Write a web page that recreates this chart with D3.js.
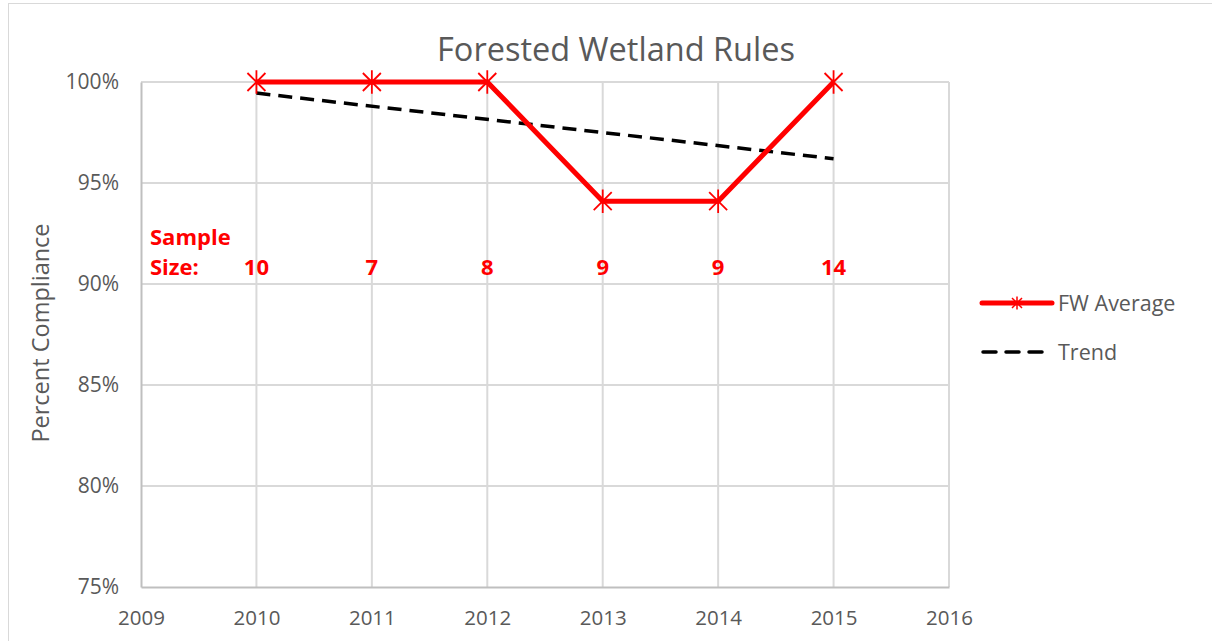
<!DOCTYPE html>
<html><head><meta charset="utf-8">
<script src="https://cdn.jsdelivr.net/npm/d3@7"></script>
<style>
body{margin:0;background:#fff;}
text{font-family:"Open Sans",sans-serif;}
</style></head>
<body>
<svg id="chart" width="1212" height="641"></svg>
<script>
const years = [2010, 2011, 2012, 2013, 2014, 2015];
const fwAverage = [100, 100, 100, 94.1, 94.1, 100];
const sampleSizes = [10, 7, 8, 9, 9, 14];
const trendYears = [2010, 2015];
const trendValues = [99.45, 96.2];
const xTicks = [2009, 2010, 2011, 2012, 2013, 2014, 2015, 2016];
const yTicks = [75, 80, 85, 90, 95, 100];
const title = "Forested Wetland Rules";
const yLabel = "Percent Compliance";
const legendLabels = ["FW Average", "Trend"];

const svg = d3.select("#chart");
const gray = "#595959";

// chart area border
svg.append("rect").attr("x", 8.5).attr("y", 3.5).attr("width", 1230).attr("height", 660)
  .attr("fill", "#fff").attr("stroke", "#d9d9d9").attr("stroke-width", 1);

const x = d3.scaleLinear().domain([2009, 2016]).range([141, 949]);
const y = d3.scaleLinear().domain([75, 100]).range([587, 82]);

// gridlines
svg.append("g").selectAll("line").data(yTicks.filter(d => d > 75)).join("line")
  .attr("x1", x(2009)).attr("x2", x(2016)).attr("y1", d => y(d)).attr("y2", d => y(d))
  .attr("stroke", "#d9d9d9").attr("stroke-width", 2);
svg.append("g").selectAll("line").data(xTicks.filter(d => d > 2009)).join("line")
  .attr("x1", d => x(d)).attr("x2", d => x(d)).attr("y1", y(100)).attr("y2", y(75))
  .attr("stroke", "#d9d9d9").attr("stroke-width", 2);

// axes
const xAxis = svg.append("g").attr("transform", `translate(0,${y(75)})`)
  .call(d3.axisBottom(x).tickValues(xTicks).tickFormat(d3.format("d")).tickSize(0).tickPadding(23));
xAxis.select(".domain").attr("stroke", "#bfbfbf").attr("stroke-width", 2);
xAxis.selectAll("text").attr("fill", gray).style("font-size", "20.5px");

const yAxis = svg.append("g").attr("transform", `translate(${x(2009)},0)`)
  .call(d3.axisLeft(y).tickValues(yTicks).tickFormat(d => d + "%").tickSize(0).tickPadding(22));
yAxis.select(".domain").attr("stroke", "#bfbfbf").attr("stroke-width", 2);
yAxis.selectAll("text").attr("fill", gray).style("font-size", "21px");

// title
svg.append("text").attr("x", 616).attr("y", 61).attr("text-anchor", "middle")
  .attr("fill", gray).style("font-size", "32.5px").text(title);

// y label
svg.append("text").attr("transform", `translate(49,333) rotate(-90)`).attr("text-anchor", "middle")
  .attr("fill", gray).style("font-size", "23.5px").text(yLabel);

// trend line
const line = d3.line().x(d => x(d[0])).y(d => y(d[1]));
svg.append("path").datum(trendYears.map((t, i) => [t, trendValues[i]]))
  .attr("d", line).attr("fill", "none").attr("stroke", "#000")
  .attr("stroke-width", 3.5).attr("stroke-dasharray", "14,8");

// FW average line
svg.append("path").datum(years.map((t, i) => [t, fwAverage[i]]))
  .attr("d", line).attr("fill", "none").attr("stroke", "#ff0000")
  .attr("stroke-width", 5).attr("stroke-linejoin", "round");

function star(g, cx, cy, r, sw) {
  const p = `M${cx - r},${cy - r}L${cx + r},${cy + r}M${cx - r},${cy + r}L${cx + r},${cy - r}M${cx},${cy - r * 1.3}L${cx},${cy + r * 1.3}`;
  g.append("path").attr("d", p).attr("stroke", "#ff0000").attr("stroke-width", sw).attr("fill", "none");
}
const mg = svg.append("g");
years.forEach((t, i) => star(mg, x(t), y(fwAverage[i]), 9, 1.8));

// sample sizes
const red = "#ff0000";
svg.append("text").attr("x", 150).attr("y", 245).attr("fill", red)
  .style("font-size", "22px").style("font-weight", "bold").text("Sample");
svg.append("text").attr("x", 150).attr("y", 275).attr("fill", red)
  .style("font-size", "22px").style("font-weight", "bold").text("Size:");
svg.append("g").selectAll("text").data(years).join("text")
  .attr("x", d => x(d)).attr("y", 275).attr("text-anchor", "middle").attr("fill", red)
  .style("font-size", "22px").style("font-weight", "bold").text((d, i) => sampleSizes[i]);

// legend
const lg = svg.append("g");
lg.append("line").attr("x1", 982).attr("x2", 1052).attr("y1", 303).attr("y2", 303)
  .attr("stroke", red).attr("stroke-width", 5).attr("stroke-linecap", "round");
star(lg, 1017, 303, 5, 1.5);
lg.append("text").attr("x", 1058).attr("y", 311).attr("fill", gray).style("font-size", "21.5px").text(legendLabels[0]);
lg.append("line").attr("x1", 983).attr("x2", 1052).attr("y1", 352).attr("y2", 352)
  .attr("stroke", "#000").attr("stroke-width", 3.5).attr("stroke-dasharray", "13,10").attr("stroke-linecap", "round");
lg.append("text").attr("x", 1058).attr("y", 360).attr("fill", gray).style("font-size", "21.5px").text(legendLabels[1]);
</script>
</body></html>
